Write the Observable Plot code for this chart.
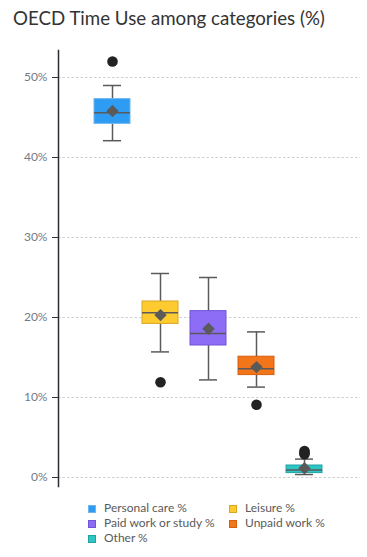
<!DOCTYPE html>
<html>
<head>
<meta charset="utf-8">
<script src="https://cdn.jsdelivr.net/npm/d3@7"></script>
<script src="https://cdn.jsdelivr.net/npm/@observablehq/plot@0.6"></script>
<style>
  html, body { margin: 0; padding: 0; background: #fff; }
  body { width: 367px; height: 557px; position: relative; overflow: hidden; font-family: "Lato", sans-serif; }
  #title { position: absolute; left: 13px; top: 7px; font-size: 18.7px; color: #333; font-family: "Lato", sans-serif; white-space: nowrap; }
  #chart { position: absolute; left: 0; top: 40px; }
  #legend { position: absolute; left: 0; top: 0; width: 367px; }
  .li { position: absolute; font-size: 12px; color: #5a5a5a; white-space: nowrap; line-height: 14px; font-family: "Lato", sans-serif; }
  .sw { display: inline-block; width: 8px; height: 8px; margin-right: 8px; vertical-align: -0.5px; box-sizing: border-box; }
</style>
</head>
<body>
<div id="title">OECD Time Use among categories (%)</div>
<div id="chart"></div>
<div id="legend"></div>
<script>
const categories = ["Personal care %", "Leisure %", "Paid work or study %", "Unpaid work %", "Other %"];
const colors = ["#2e9cf2", "#fdca30", "#8d6cf6", "#f2751a", "#2fc5c4"];
const strokes = ["#6fb6f0", "#d9a622", "#7355d8", "#d4600e", "#1fa3a3"];
const lowWhisker = [42.1, 15.7, 12.2, 11.3, 0.37];
const q1 = [44.2, 19.2, 16.5, 12.8, 0.55];
const median = [45.6, 20.6, 18.0, 13.6, 0.95];
const q3 = [47.3, 22.0, 20.8, 15.1, 1.5];
const highWhisker = [49.0, 25.5, 25.0, 18.2, 2.3];
const means = [45.8, 20.3, 18.6, 13.8, 1.15];
const outlierCategories = ["Personal care %", "Leisure %", "Unpaid work %", "Other %", "Other %", "Other %"];
const outlierValues = [52.0, 11.9, 9.1, 3.3, 3.1, 2.9];
const yTicks = [0, 10, 20, 30, 40, 50];

const boxes = categories.map((c, i) => ({
  cat: c, lo: lowWhisker[i], q1: q1[i], med: median[i], q3: q3[i], hi: highWhisker[i], mean: means[i]
}));
const outliers = outlierCategories.map((c, i) => ({cat: c, v: outlierValues[i]}));

const chart = Plot.plot({
  width: 367,
  height: 456,
  marginTop: 10,
  marginBottom: 10,
  marginLeft: 58,
  marginRight: 7,
  style: {fontFamily: "Lato, sans-serif", fontSize: "12px", background: "#fff"},
  x: {domain: categories, range: [88, 328], paddingInner: 0.25, paddingOuter: 0.125, axis: null},
  y: {domain: [-1.125, 53.375], axis: null},
  color: {domain: categories, range: colors},
  marks: [
    Plot.ruleY(yTicks, {stroke: "#cfcfcf", strokeDasharray: "2.5,2", strokeWidth: 1}),
    Plot.axisY(yTicks, {tickSize: 6, tickPadding: 5, tickFormat: d => d + "%", stroke: "#333", color: "#747a86", fontSize: 12}),
    Plot.frame({anchor: "left", stroke: "#2b2b33", strokeWidth: 1.5}),
    Plot.ruleX(boxes, {x: "cat", y1: "lo", y2: "hi", stroke: "#5a5a5a", strokeWidth: 1.5}),
    Plot.tickY(boxes, {x: "cat", y: "hi", stroke: "#5a5a5a", strokeWidth: 1.5, insetLeft: 9, insetRight: 9}),
    Plot.tickY(boxes, {x: "cat", y: "lo", stroke: "#5a5a5a", strokeWidth: 1.5, insetLeft: 9, insetRight: 9}),
    Plot.barY(boxes, {x: "cat", y1: "q1", y2: "q3", fill: "cat", stroke: (d, i) => strokes[i], strokeWidth: 1}),
    Plot.tickY(boxes, {x: "cat", y: "med", stroke: "#5a5a5a", strokeWidth: 1.5}),
    Plot.dot(boxes, {x: "cat", y: "mean", symbol: "diamond2", r: 5.6, fill: "#5a5a5a", stroke: "none"}),
    Plot.dot(outliers, {x: "cat", y: "v", r: 5.3, fill: "#222", stroke: "none"})
  ]
});
document.getElementById("chart").appendChild(chart);

const legendPos = [[88, 501], [229, 501], [88, 516], [229, 516], [88, 531]];
const legend = document.getElementById("legend");
categories.forEach((c, i) => {
  const el = document.createElement("div");
  el.className = "li";
  el.style.left = legendPos[i][0] + "px";
  el.style.top = legendPos[i][1] + "px";
  el.innerHTML = `<span class="sw" style="background:${colors[i]};border:1px solid ${strokes[i]}"></span>${c}`;
  legend.appendChild(el);
});
</script>
</body>
</html>
